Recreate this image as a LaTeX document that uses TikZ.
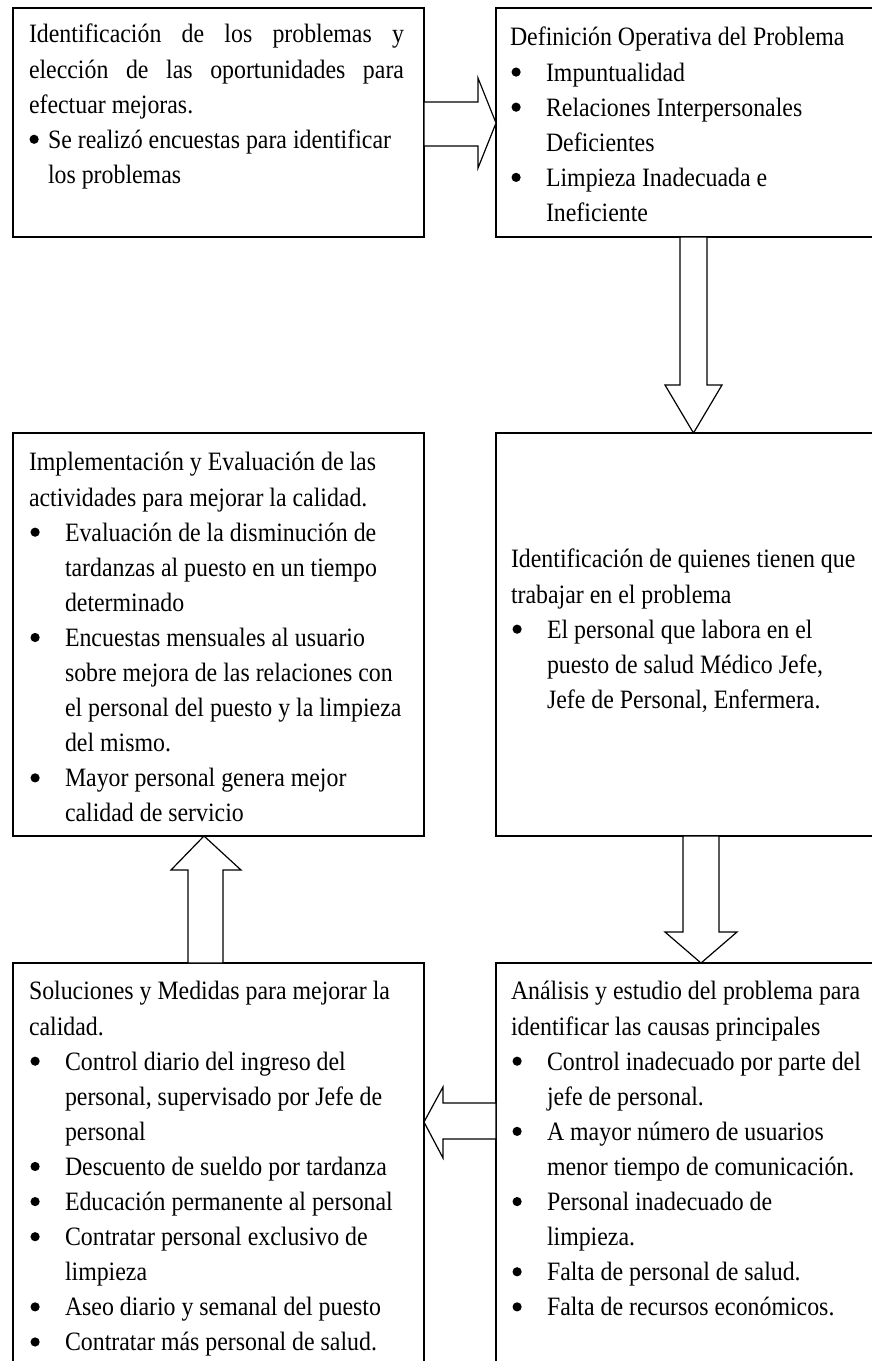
\documentclass[tikz,border=0pt]{standalone}
\usepackage{fontspec}
\setmainfont{Liberation Serif}[FakeStretch=0.9]
\usetikzlibrary{calc}
\newcommand{\bdot}{\tikz[baseline=-9pt]\fill[black] (0pt,0pt) circle[radius=4.6pt];}
\newcommand{\bul}{\makebox[36pt][l]{\hspace{1.5pt}\bdot}}
\newcommand{\bulA}{\makebox[19pt][l]{\hspace{0.5pt}\bdot}}
\newcommand{\ind}{\hspace*{36pt}}
\newcommand{\indA}{\hspace*{19pt}}
\tikzset{
  box/.style={draw=black, line width=1.3pt, fill=white, anchor=north west, inner sep=0pt, outer sep=0pt},
  txt/.style={anchor=north west, inner sep=0pt, outer sep=0pt, align=left, text=black,
    font=\fontsize{26.5pt}{35.1pt}\selectfont},
  blk/.style={draw=black, fill=white, line width=1.2pt, line join=miter}
}
\begin{document}
\begin{tikzpicture}[x=1pt,y=-1pt]
\useasboundingbox (0,0) rectangle (872,1361);
\fill[white] (0,0) rectangle (872,1361);
\clip (0,0) rectangle (872,1361);

% boxes
\node[box, minimum width=411pt, minimum height=229pt] (b1) at (13,8) {};
\node[box, minimum width=380pt, minimum height=229pt] (b2) at (496,8) {};
\node[box, minimum width=411pt, minimum height=403pt] (b3) at (13,433) {};
\node[box, minimum width=380pt, minimum height=403pt] (b4) at (496,433) {};
\node[box, minimum width=411pt, minimum height=420pt] (b5) at (13,963) {};
\node[box, minimum width=380pt, minimum height=420pt] (b6) at (496,963) {};

% texts
\node[txt] (t1) at (29,18.4) {%
\hbox to 375pt{\strut Identificación\hfill de\hfill los\hfill problemas\hfill y}\\
\hbox to 375pt{elección\hfill de\hfill las\hfill oportunidades\hfill para}\\
efectuar mejoras.\\
\bulA Se realizó encuestas para identificar\\
\indA los problemas};

\node[txt] (t2) at (510,21.4) {%
\strut Definición Operativa del Problema\\
\bul Impuntualidad\\
\bul Relaciones Interpersonales\\
\ind Deficientes\\
\bul Limpieza Inadecuada e\\
\ind Ineficiente};

\node[txt] (t3) at (29,446.4) {%
\strut Implementación y Evaluación de las\\
actividades para mejorar la calidad.\\
\bul Evaluación de la disminución de\\
\ind tardanzas al puesto en un tiempo\\
\ind determinado\\
\bul Encuestas mensuales al usuario\\
\ind sobre mejora de las relaciones con\\
\ind el personal del puesto y la limpieza\\
\ind del mismo.\\
\bul Mayor personal genera mejor\\
\ind calidad de servicio};

\node[txt] (t4) at (511,543.4) {%
\strut Identificación de quienes tienen que\\
trabajar en el problema\\
\bul El personal que labora en el\\
\ind puesto de salud Médico Jefe,\\
\ind Jefe de Personal, Enfermera.};

\node[txt] (t5) at (29,975.4) {%
\strut Soluciones y Medidas para mejorar la\\
calidad.\\
\bul Control diario del ingreso del\\
\ind personal, supervisado por Jefe de\\
\ind personal\\
\bul Descuento de sueldo por tardanza\\
\bul Educación permanente al personal\\
\bul Contratar personal exclusivo de\\
\ind limpieza\\
\bul Aseo diario y semanal del puesto\\
\bul Contratar más personal de salud.};

\node[txt] (t6) at (511,975.4) {%
\strut Análisis y estudio del problema para\\
identificar las causas principales\\
\bul Control inadecuado por parte del\\
\ind jefe de personal.\\
\bul A mayor número de usuarios\\
\ind menor tiempo de comunicación.\\
\bul Personal inadecuado de\\
\ind limpieza.\\
\bul Falta de personal de salud.\\
\bul Falta de recursos económicos.};

% block arrows
\draw[blk] (b1.east |- 0,102) -- (478,102) -- (478,78) -- (b2.west |- 0,123)
  -- (478,168) -- (478,146) -- (b1.east |- 0,146) -- cycle;
\draw[blk] (680,0 |- b2.south) -- (680,385) -- (665,385) -- (693.5,0 |- b4.north)
  -- (722,385) -- (707,385) -- (707,0 |- b2.south) -- cycle;
\draw[blk] (683,0 |- b4.south) -- (683,932) -- (665,932) -- (701,0 |- b6.north)
  -- (737,932) -- (719,932) -- (719,0 |- b4.south) -- cycle;
\draw[blk] (b6.west |- 0,1103) -- (443,1103) -- (443,1087) -- (b5.east |- 0,1122)
  -- (443,1158) -- (443,1139) -- (b6.west |- 0,1139) -- cycle;
\draw[blk] (188,0 |- b5.north) -- (188,870) -- (171,870) -- (204,0 |- b3.south)
  -- (241,870) -- (223,870) -- (223,0 |- b5.north) -- cycle;
\end{tikzpicture}
\end{document}
